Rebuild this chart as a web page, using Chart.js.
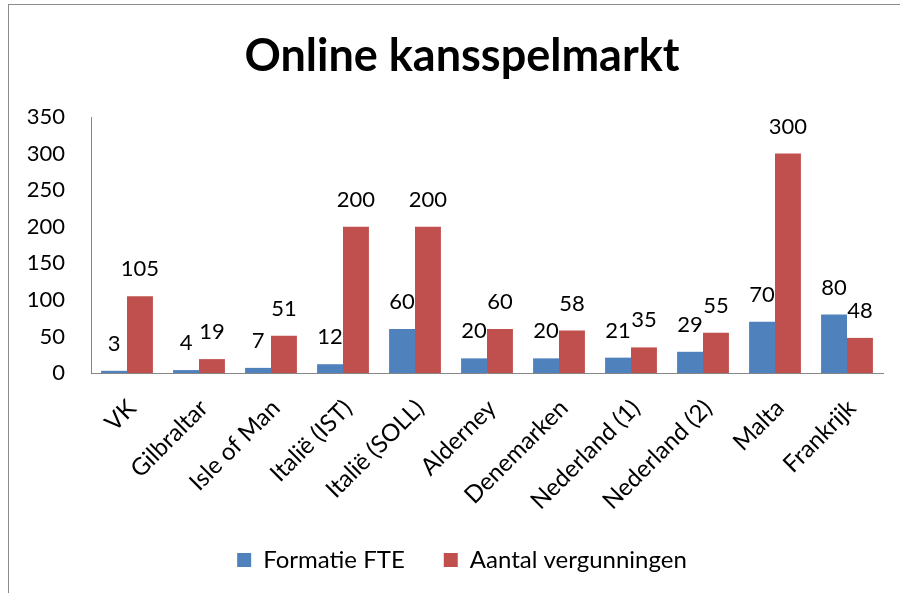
<!DOCTYPE html>
<html>
<head>
<meta charset="utf-8">
<script src="https://cdn.jsdelivr.net/npm/chart.js"></script>
<style>
  html, body { margin: 0; padding: 0; background: #fff; overflow: hidden; }
  #kader {
    position: absolute; left: 8px; top: 4px;
    width: 906px; height: 588px;
    border-top: 1px solid #8c8c8c; border-left: 1px solid #8c8c8c;
  }
</style>
</head>
<body>
<div id="kader"><canvas id="grafiekKansspel"></canvas></div>
<script>
const categorieen = ['VK', 'Gilbraltar', 'Isle of Man', 'Italië (IST)', 'Italië (SOLL)', 'Alderney', 'Denemarken', 'Nederland (1)', 'Nederland (2)', 'Malta', 'Frankrijk'];
const formatieFTE = [3, 4, 7, 12, 60, 20, 20, 21, 29, 70, 80];
const aantalVergunningen = [105, 19, 51, 200, 200, 60, 58, 35, 55, 300, 48];
const yTicks = [0, 50, 100, 150, 200, 250, 300, 350];

Chart.defaults.font.family = 'Lato';
Chart.defaults.color = '#000';

// waarden boven de staven
const waardeLabels = {
    id: 'waardeLabels',
    afterDatasetsDraw(chart) {
        const ctx = chart.ctx;
        ctx.save();
        ctx.font = '22px Lato';
        ctx.fillStyle = '#000';
        ctx.textAlign = 'center';
        ctx.textBaseline = 'middle';
        chart.data.datasets.forEach((ds, i) => {
            chart.getDatasetMeta(i).data.forEach((bar, j) => {
                ctx.fillText(ds.data[j], bar.x, bar.y - 27);
            });
        });
        ctx.restore();
    }
};

const ctx = document.getElementById('grafiekKansspel').getContext('2d');

new Chart(ctx, {
    type: 'bar',
    data: {
        labels: categorieen,
        datasets: [
            {
                label: 'Formatie FTE',
                data: formatieFTE,
                backgroundColor: '#4F81BD',
                categoryPercentage: 0.72,
                barPercentage: 1
            },
            {
                label: 'Aantal vergunningen',
                data: aantalVergunningen,
                backgroundColor: '#C0504D',
                categoryPercentage: 0.72,
                barPercentage: 1
            }
        ]
    },
    plugins: [waardeLabels],
    options: {
        responsive: true,
        maintainAspectRatio: false,
        animation: false,
        layout: { padding: { left: 0, right: 0, top: 0, bottom: 11 } },
        plugins: {
            title: {
                display: true,
                text: 'Online kansspelmarkt',
                color: '#000',
                font: { size: 45, weight: 'bold', lineHeight: 1.2 },
                padding: { top: 24, bottom: 34 }
            },
            legend: {
                position: 'bottom',
                labels: {
                    boxWidth: 14,
                    boxHeight: 14,
                    padding: 39,
                    font: { size: 24 }
                }
            },
            tooltip: { enabled: false }
        },
        scales: {
            x: {
                grid: { display: false, drawTicks: false },
                border: { display: true, color: '#868686', width: 1 },
                ticks: {
                    autoSkip: false,
                    minRotation: 45,
                    maxRotation: 45,
                    padding: 21,
                    labelOffset: 5,
                    font: { size: 24 }
                },
                afterFit: (scale) => { scale.height = 136; }
            },
            y: {
                min: 0,
                max: 350,
                grid: { display: false, drawTicks: false },
                border: { display: true, color: '#868686', width: 1 },
                afterBuildTicks: (scale) => { scale.ticks = yTicks.map(v => ({ value: v })); },
                ticks: {
                    padding: 26,
                    font: { size: 22 }
                },
                afterFit: (scale) => { scale.width = 82; }
            },
            // lege as rechts, houdt de marge vrij zodat de titel gecentreerd blijft
            rechts: {
                position: 'right',
                display: true,
                grid: { display: false, drawTicks: false },
                border: { display: false },
                ticks: { display: false },
                afterFit: (scale) => { scale.width = 32; }
            }
        }
    }
});
</script>
</body>
</html>
